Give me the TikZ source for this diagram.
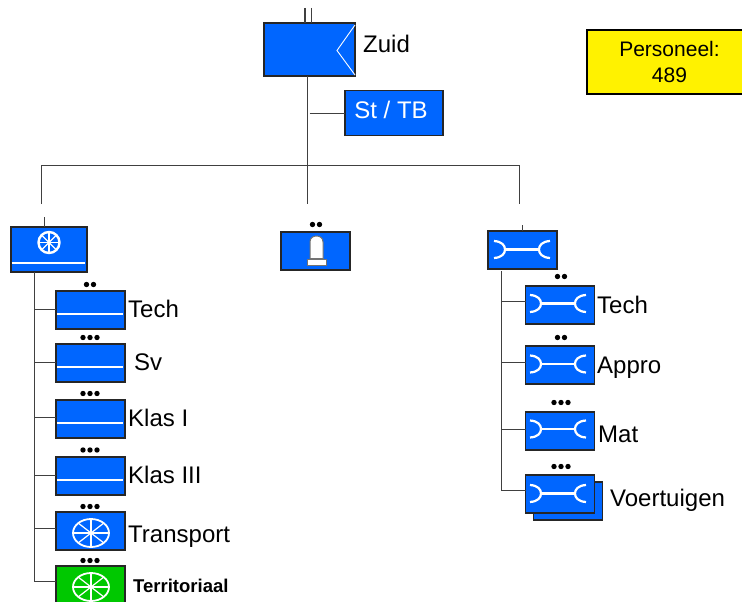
\documentclass[tikz,border=0pt]{standalone}
\usepackage{fontspec}
\setmainfont{Liberation Sans}
\definecolor{unitblue}{HTML}{0066FF}
\definecolor{unitgreen}{HTML}{00C800}
\definecolor{connblack}{HTML}{404040}
\newcommand{\wheelicon}[5]{%
  \draw[draw=white, line width=#5pt] (#1,#2) ellipse [x radius=#3, y radius=#4];
  \foreach \a in {0,45,90,135} {
    \draw[iconthin] ({#1+#3*cos(\a)},{#2+#4*sin(\a)}) -- ({#1-#3*cos(\a)},{#2-#4*sin(\a)});
  }}
\newcommand{\bridgeicon}[2]{%
  \begin{scope}[shift={(#1,#2)}]
    \draw[iconline] (-28,-8.5) .. controls (-20,-8) and (-17,-4) .. (-17,0) .. controls (-17,4) and (-20,8) .. (-28,8.5);
    \draw[iconline] (28,-8.5) .. controls (20,-8) and (17,-4) .. (17,0) .. controls (17,4) and (20,8) .. (28,8.5);
    \draw[iconline] (-17,0) -- (17,0);
  \end{scope}}
\newcommand{\dotrow}[3]{%
  \foreach \d in {1,...,#3} {
    \fill[black] ({#1+(\d-(#3+1)/2)*7},#2) circle [radius=2.7];
  }}
\tikzset{
  unitbox/.style={draw=black!85, fill=unitblue, line width=1.1pt, inner sep=0pt, outer sep=0pt},
  childbox/.style={unitbox, minimum width=69pt, minimum height=38pt},
  conn/.style={draw=connblack, line width=0.9pt},
  iconline/.style={draw=white, line width=2.2pt},
  iconthin/.style={draw=white, line width=1.2pt},
  hline/.style={draw=white, line width=1.8pt},
  lbl/.style={anchor=base west, inner sep=0pt, font=\fontsize{24}{24}\selectfont, text=black},
}
\begin{document}
\begin{tikzpicture}[x=1pt,y=-1pt]
\clip (0,0) rectangle (742,602);
% commander
\node[unitbox, minimum width=91pt, minimum height=53pt] (zuid) at (309.5,49.5) {};
\coordinate (topa) at (305,8);
\coordinate (topb) at (311.5,8);
\draw[conn, line width=1.2pt] (topa) -- (topa |- zuid.north);
\draw[conn, line width=1.2pt] (topb) -- (topb |- zuid.north);
\draw[draw=white, line width=0.9pt] (355,25) -- (337,50.5) -- (355,75);
\node[lbl] (zuidl) at (363,53) {Zuid};
\node[unitbox, minimum width=98pt, minimum height=45pt] (sttb) at (394,113) {};
\node[anchor=base, inner sep=0pt, font=\fontsize{24}{24}\selectfont, text=white] (sttbl) at (391,118) {St / TB};
% personnel
\node[draw=black, fill=yellow, line width=2.6pt, inner sep=0pt, minimum width=170pt, minimum height=64pt] (pers) at (672,62) {};
\node[anchor=base, inner sep=0pt, font=\fontsize{21}{21}\selectfont] (persa) at (669.5,57) {Personeel:};
\node[anchor=base, inner sep=0pt, font=\fontsize{21}{21}\selectfont] (persb) at (669.5,83) {489};
% main tree
\coordinate (stem) at (307,76);
\coordinate (stemend) at (307,204);
\coordinate (stbr) at (309.5,113);
\coordinate (hl) at (41,165);
\coordinate (hr) at (519,165);
\coordinate (hle) at (41,204);
\coordinate (hre) at (519,204);
\draw[conn] (stem) -- (stemend);
\draw[conn] (stbr) -- (sttb.west |- stbr);
\draw[conn] (hle) -- (hl) -- (hr) -- (hre);
% left group
\node[unitbox, minimum width=76pt, minimum height=45pt] (lefth) at (49,249.5) {};
\coordinate (lefttop) at (44,217);
\draw[conn] (lefttop) -- (lefttop |- lefth.north);
\wheelicon{49}{242.5}{10.5}{10.5}{2.4}
\draw[hline] (11.5,263) -- (85,263);
\node[childbox] (ltech) at (90.5,310) {};
\node[childbox] (lsv) at (90.5,363) {};
\node[childbox] (lk1) at (90.5,419) {};
\node[childbox] (lk3) at (90.5,476) {};
\node[childbox] (ltr) at (90.5,531) {};
\node[childbox, fill=unitgreen] (lter) at (90.5,585) {};
\coordinate (lbus) at (34,272);
\coordinate (bltech) at (34,309);
\coordinate (blsv) at (34,362);
\coordinate (blk1) at (34,417);
\coordinate (blk3) at (34,475);
\coordinate (bltr) at (34,528);
\coordinate (blter) at (34,581);
\draw[conn] (lbus) -- (blter) -- (lter.west |- blter);
\foreach \n/\b in {ltech/bltech,lsv/blsv,lk1/blk1,lk3/blk3,ltr/bltr} {
  \draw[conn] (\b) -- (\n.west |- \b);
}
\draw[hline] (57,314) -- (123,314);
\draw[hline] (57,367) -- (123,367);
\draw[hline] (57,423) -- (123,423);
\draw[hline] (57,480) -- (123,480);
\wheelicon{91}{533}{18}{14}{1.8}
\wheelicon{91}{587}{18}{14}{1.8}
\dotrow{90}{284.5}{2}
\dotrow{90}{337.5}{3}
\dotrow{90}{393.5}{3}
\dotrow{90}{450}{3}
\dotrow{90}{506.5}{3}
\dotrow{90}{560.5}{3}
\node[lbl] (tl1) at (128,317) {Tech};
\node[lbl] (tl2) at (134,370) {Sv};
\node[lbl] (tl3) at (128,426) {Klas I};
\node[lbl] (tl4) at (128,483) {Klas III};
\node[lbl] (tl5) at (128,542) {Transport};
\node[anchor=base west, inner sep=0pt, font=\fontsize{18.5}{18.5}\selectfont\bfseries] (tl6) at (133,592) {Territoriaal};
% centre group
\node[childbox] (mid) at (315.5,251) {};
\dotrow{316}{224.5}{2}
\draw[draw=black!55, fill=white, line width=1pt] (310,258.5) -- (310,242) .. controls (310,238) and (313,236) .. (316.5,236) .. controls (320,236) and (323,238) .. (323,242) -- (323,258.5) -- cycle;
\draw[draw=black!55, fill=white, line width=0.8pt] (307.5,259) rectangle (326.5,265);
% right group
\node[childbox] (righth) at (522.5,250) {};
\coordinate (righttop) at (522,225);
\draw[conn] (righttop) -- (righttop |- righth.north);
\bridgeicon{522}{249.5}
\coordinate (rbus) at (501,271);
\coordinate (brtech) at (501,301);
\coordinate (brap) at (501,362);
\coordinate (brmat) at (501,429);
\coordinate (brv) at (501,490);
\draw[conn] (rbus) -- (brv);
\node[childbox] (rtech) at (560,305) {};
\node[childbox] (rap) at (560,365) {};
\node[childbox] (rmat) at (560,431) {};
\node[childbox] (rvb) at (568,501) {};
\node[childbox] (rv) at (560,494) {};
\draw[conn] (brtech) -- (rtech.west |- brtech);
\draw[conn] (brap) -- (rap.west |- brap);
\draw[conn] (brmat) -- (rmat.west |- brmat);
\draw[conn] (brv) -- (rv.west |- brv);
\bridgeicon{558}{303.5}
\bridgeicon{558}{364}
\bridgeicon{558}{429}
\bridgeicon{558}{493.5}
\dotrow{561}{276.5}{2}
\dotrow{561}{337.5}{2}
\dotrow{561}{402.5}{3}
\dotrow{561}{466.5}{3}
\node[lbl] (tr1) at (597,313) {Tech};
\node[lbl] (tr2) at (597,373) {Appro};
\node[lbl] (tr3) at (598,442) {Mat};
\node[lbl] (tr4) at (610,506) {Voertuigen};
\end{tikzpicture}
\end{document}
